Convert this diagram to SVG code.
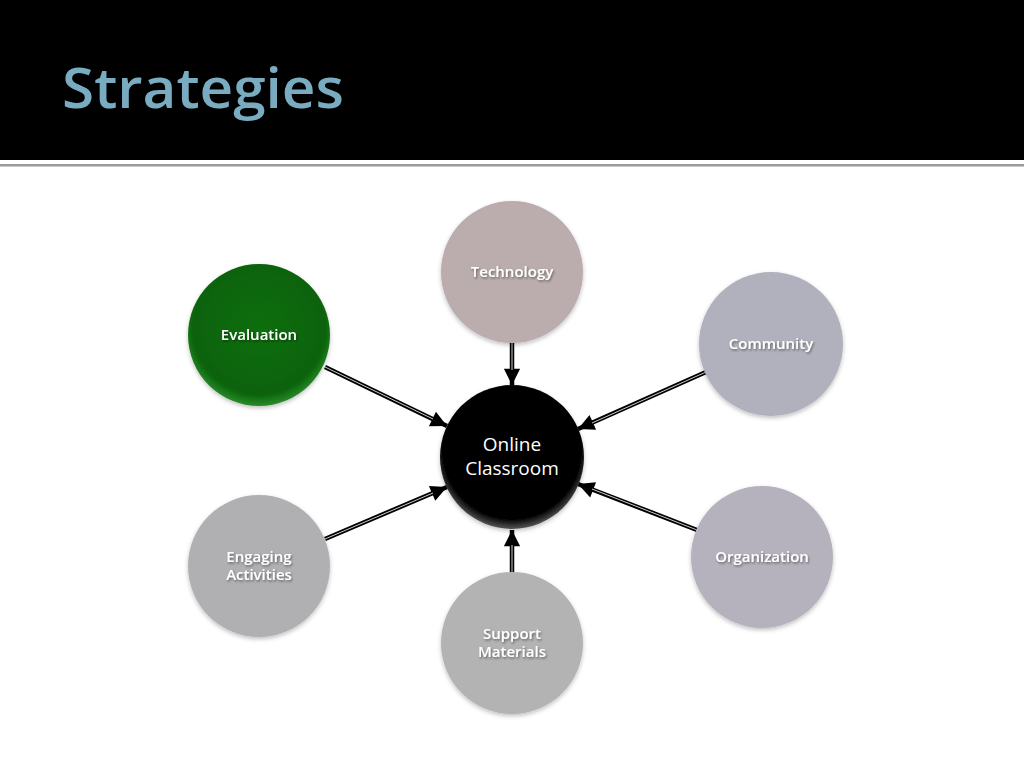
<svg xmlns="http://www.w3.org/2000/svg" width="1024" height="768" viewBox="0 0 1024 768">
<defs>
<style>
.lbl{font-family:"Open Sans","Noto Sans","Liberation Sans",sans-serif;font-weight:600;font-size:15px;fill:#ffffff;text-anchor:middle;filter:url(#ts)}
.ctr{font-family:"Open Sans","Noto Sans","Liberation Sans",sans-serif;font-size:19px;fill:#ffffff;text-anchor:middle}
.ln{stroke:#000;stroke-width:4.5;fill:none}
.ln2{stroke:#ffffff;stroke-width:1;fill:none;opacity:0.8}
</style>
<filter id="ts" x="-20%" y="-40%" width="140%" height="180%">
<feDropShadow dx="1" dy="1.5" stdDeviation="1" flood-color="#000" flood-opacity="0.45"/>
</filter>
<filter id="cs" x="-20%" y="-20%" width="140%" height="140%">
<feDropShadow dx="0" dy="2" stdDeviation="2" flood-color="#000" flood-opacity="0.25"/>
</filter>
<radialGradient id="gg" cx="50%" cy="45%" r="55%">
<stop offset="0" stop-color="#0b6e0b"/>
<stop offset="0.85" stop-color="#076307"/>
<stop offset="1" stop-color="#2c8a2c"/>
</radialGradient>
<radialGradient id="gb" cx="50%" cy="45%" r="55%">
<stop offset="0" stop-color="#000"/>
<stop offset="0.88" stop-color="#050505"/>
<stop offset="1" stop-color="#555"/>
</radialGradient>
<marker id="ah" viewBox="0 0 10 10" refX="10" refY="5" markerWidth="4" markerHeight="3.6" orient="auto" markerUnits="strokeWidth">
<path d="M0,0 L10,5 L0,10 Z" fill="#000"/>
</marker>
</defs>
<rect x="0" y="0" width="1024" height="768" fill="#ffffff"/>
<rect x="0" y="0" width="1024" height="160" fill="#000000"/>
<rect x="0" y="164" width="1024" height="2.5" fill="#9a9a9a"/>
<text x="62" y="108" font-family="Open Sans,Noto Sans,Liberation Sans,sans-serif" font-size="56" font-weight="600" fill="#79acc1" textLength="282" lengthAdjust="spacingAndGlyphs">Strategies</text>
<g id="connectors">
<line class="ln" x1="512" y1="343" x2="512" y2="385" marker-end="url(#ah)"/>
<line class="ln2" x1="512" y1="343" x2="512" y2="370"/>
<line class="ln" x1="325" y1="367" x2="447" y2="426" marker-end="url(#ah)"/>
<line class="ln2" x1="325" y1="367" x2="433" y2="419"/>
<line class="ln" x1="706" y1="372" x2="578" y2="429" marker-end="url(#ah)"/>
<line class="ln2" x1="706" y1="372" x2="592" y2="423"/>
<line class="ln" x1="325" y1="539" x2="447" y2="487" marker-end="url(#ah)"/>
<line class="ln2" x1="325" y1="539" x2="433" y2="493"/>
<line class="ln" x1="697" y1="530" x2="578" y2="484" marker-end="url(#ah)"/>
<line class="ln2" x1="697" y1="530" x2="592" y2="489"/>
<line class="ln" x1="512" y1="572" x2="512" y2="530" marker-end="url(#ah)"/>
<line class="ln2" x1="512" y1="572" x2="512" y2="545"/>
</g>
<g id="technology">
<circle cx="512" cy="272" r="71" fill="#bbadad" filter="url(#cs)"/>
<text class="lbl" x="512" y="277">Technology</text>
</g>
<g id="evaluation">
<circle cx="259" cy="335" r="71" fill="url(#gg)" filter="url(#cs)"/>
<text class="lbl" x="259" y="340">Evaluation</text>
</g>
<g id="community">
<circle cx="771" cy="344" r="72" fill="#b1b1bd" filter="url(#cs)"/>
<text class="lbl" x="771" y="349">Community</text>
</g>
<g id="online-classroom">
<circle cx="512" cy="457" r="72" fill="url(#gb)" filter="url(#cs)"/>
<text class="ctr" x="512" y="451">Online</text>
<text class="ctr" x="512" y="475">Classroom</text>
</g>
<g id="engaging-activities">
<circle cx="259" cy="566" r="71" fill="#b0b0b3" filter="url(#cs)"/>
<text class="lbl" x="259" y="562">Engaging</text>
<text class="lbl" x="259" y="580">Activities</text>
</g>
<g id="organization">
<circle cx="762" cy="557" r="71" fill="#b6b2bd" filter="url(#cs)"/>
<text class="lbl" x="762" y="562">Organization</text>
</g>
<g id="support-materials">
<circle cx="512" cy="643" r="71" fill="#b3b3b3" filter="url(#cs)"/>
<text class="lbl" x="512" y="639">Support</text>
<text class="lbl" x="512" y="657">Materials</text>
</g>
</svg>
